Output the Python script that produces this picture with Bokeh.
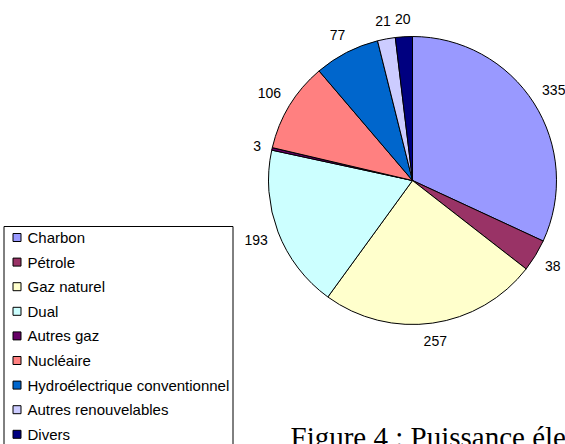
import numpy as np
from bokeh.plotting import figure
from bokeh.models import ColumnDataSource, Range1d
from bokeh.core.properties import value
from bokeh.embed import file_html
from bokeh.resources import INLINE

# ---- data ----
categories = ["Charbon", "Pétrole", "Gaz naturel", "Dual", "Autres gaz", "Nucléaire",
              "Hydroélectrique conventionnel", "Autres renouvelables", "Divers"]
values = [335, 38, 257, 193, 3, 106, 77, 21, 20]
colors = ["#9999FF", "#993366", "#FFFFCC", "#CCFFFF", "#660066", "#FF8080",
          "#0066CC", "#CCCCFF", "#000080"]
caption = "Figure 4 : Puissance électrique"

# ---- layout (pixel space; data y = PAGE_H - screen y) ----
PAGE_W, PAGE_H = 565, 444
W, H = PAGE_W, PAGE_H
CX, CY = 412, PAGE_H - 180
R = 144
SANS = value("Liberation Sans")

p = figure(width=W, height=H, output_backend="svg", toolbar_location=None,
           x_range=Range1d(0, W), y_range=Range1d(0, H),
           min_border=0, outline_line_color=None, background_fill_color="white",
           border_fill_color="white")
p.axis.visible = False
p.grid.visible = False

vals = np.array(values, dtype=float)
frac = vals / vals.sum()
cum_end = np.cumsum(frac) * 2 * np.pi
cum_start = cum_end - frac * 2 * np.pi
mid = (cum_start + cum_end) / 2

src = ColumnDataSource(dict(
    start=np.pi / 2 - cum_start, end=np.pi / 2 - cum_end,
    color=colors, cat=categories))
p.wedge(x=CX, y=CY, radius=R, start_angle="start", end_angle="end",
        direction="clock", fill_color="color", line_color="black",
        line_width=1, source=src)

# data labels
labels = [str(v) for v in values]
tw = np.array([7.8 * len(s) for s in labels])
d = 154 + tw / 2 * np.abs(np.sin(mid)) + 7 * np.abs(np.cos(mid))
lsrc = ColumnDataSource(dict(x=CX + d * np.sin(mid), y=CY + d * np.cos(mid), t=labels))
p.text(x="x", y="y", text="t", source=lsrc, text_align="center",
       text_baseline="middle", text_font=SANS, text_font_size="14px",
       text_color="black")

# legend (box, swatches, labels)
LEG_TOP, LEG_LEFT, LEG_RIGHT = 226, 3.5, 232.5
ROW0, PITCH = 237, 24.6
p.quad(left=LEG_LEFT, right=LEG_RIGHT, top=PAGE_H - LEG_TOP, bottom=-60,
       fill_color=None, line_color="black", line_width=1)
ry = np.array([PAGE_H - (ROW0 + PITCH * i) for i in range(len(categories))])
gsrc = ColumnDataSource(dict(x=np.full(len(categories), 16.5), y=ry,
                             tx=np.full(len(categories), 27.0), color=colors,
                             cat=categories))
p.rect(x="x", y="y", width=8, height=8, fill_color="color", line_color="black",
       line_width=1, source=gsrc)
p.text(x="tx", y="y", text="cat", source=gsrc, text_align="left",
       text_baseline="middle", text_font=SANS, text_font_size="15px",
       text_color="black")

# caption (cut off by the page like the reference)
p.text(x=[290], y=[PAGE_H - 420], text=[caption], text_align="left",
       text_baseline="top", text_font=value("Liberation Serif"),
       text_font_size="29px", text_color="black")

open("out.html", "w").write(file_html(p, INLINE))
